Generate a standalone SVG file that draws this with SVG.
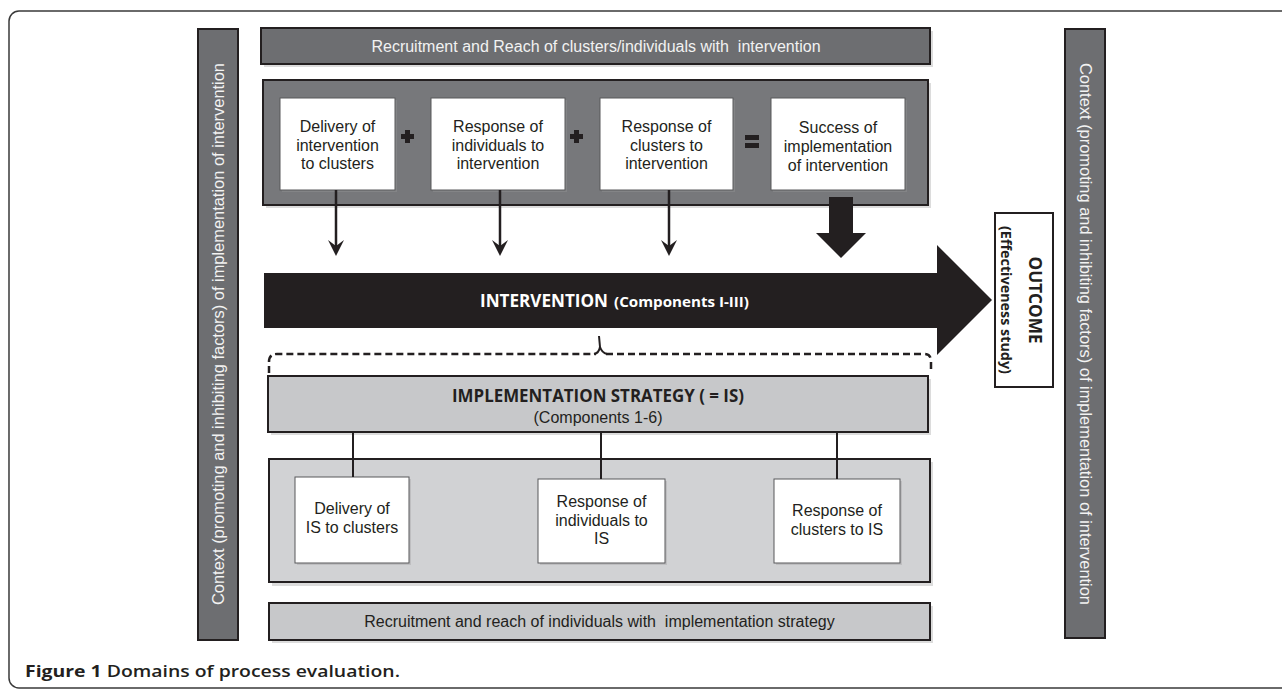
<svg xmlns="http://www.w3.org/2000/svg" width="1282" height="690" viewBox="0 0 1282 690">
<style>
.t{font-family:"Liberation Sans",Arial,sans-serif;font-size:16px;fill:#231f20;text-anchor:middle;white-space:pre}
.w{fill:#f2f2f2}
.b{font-family:"Open Sans","Liberation Sans",sans-serif;font-weight:700;text-anchor:middle}
.dark{fill:#6d6e71;stroke:#231f20;stroke-width:2}
.cont{fill:#77787b;stroke:#231f20;stroke-width:2}
.light{fill:#c7c8ca;stroke:#231f20;stroke-width:2}
.lighter{fill:#d1d2d4;stroke:#231f20;stroke-width:2}
.box{fill:#ffffff;stroke:#58595b;stroke-width:1}
.sh{fill:#9a9a9a;opacity:0.35}
.ln{stroke:#231f20;stroke-width:2;fill:none}
.ar{stroke:#231f20;stroke-width:2.5;fill:none}
.ah{fill:#231f20}
</style>
<rect x="0" y="0" width="1282" height="690" fill="#ffffff"/>
<rect x="9" y="11" width="1300" height="677" rx="10" ry="10" fill="none" stroke="#3a3a3a" stroke-width="1.5"/>

<g id="context-left">
<rect class="dark" x="198" y="29" width="40" height="611"/>
<text class="t w" transform="translate(218,334) rotate(-90)" dominant-baseline="central" textLength="542" lengthAdjust="spacingAndGlyphs">Context (promoting and inhibiting factors) of implementation of intervention</text>
</g>

<g id="context-right">
<rect class="dark" x="1065" y="29" width="40" height="609"/>
<text class="t w" transform="translate(1085,334) rotate(90)" dominant-baseline="central" textLength="542" lengthAdjust="spacingAndGlyphs">Context (promoting and inhibiting factors) of implementation of intervention</text>
</g>

<g id="recruit-top">
<rect class="sh" x="264" y="31" width="669" height="36"/>
<rect class="dark" x="261" y="28" width="669" height="36"/>
<text class="t w" x="596" y="52" xml:space="preserve">Recruitment and Reach of clusters/individuals with  intervention</text>
</g>

<g id="intervention-components">
<rect class="sh" x="266" y="83" width="665" height="125"/>
<rect class="cont" x="263" y="80" width="665" height="125"/>
<path d="M407,134h4v-4h5v4h4v5h-4v4h-5v-4h-4z" transform="translate(-6,0)" fill="#231f20"/>
<path d="M407,134h4v-4h5v4h4v5h-4v4h-5v-4h-4z" transform="translate(163,0)" fill="#231f20"/>
<rect x="745" y="135" width="14" height="5" fill="#231f20"/>
<rect x="745" y="143" width="14" height="5" fill="#231f20"/>
</g>

<g id="delivery-intervention">
<rect class="sh" x="282" y="100" width="115" height="92"/>
<rect class="box" x="280" y="98" width="115" height="92"/>
<text class="t" x="337.5" y="132">Delivery of</text>
<text class="t" x="337.5" y="151">intervention</text>
<text class="t" x="337.5" y="169">to clusters</text>
</g>

<g id="response-individuals-intervention">
<rect class="sh" x="433" y="100" width="134" height="92"/>
<rect class="box" x="431" y="98" width="134" height="92"/>
<text class="t" x="498" y="132">Response of</text>
<text class="t" x="498" y="151">individuals to</text>
<text class="t" x="498" y="169">intervention</text>
</g>

<g id="response-clusters-intervention">
<rect class="sh" x="602" y="100" width="133" height="92"/>
<rect class="box" x="600" y="98" width="133" height="92"/>
<text class="t" x="666.5" y="132">Response of</text>
<text class="t" x="666.5" y="151">clusters to</text>
<text class="t" x="666.5" y="169">intervention</text>
</g>

<g id="success-implementation">
<rect class="sh" x="773" y="100" width="134" height="92"/>
<rect class="box" x="771" y="98" width="134" height="92"/>
<text class="t" x="838" y="133">Success of</text>
<text class="t" x="838" y="152">implementation</text>
<text class="t" x="838" y="171">of intervention</text>
</g>

<g id="intervention-arrow">
<polygon points="264,273 937,273 937,245 992,300 937,355 937,328 264,328" fill="#231f20"/>
<text class="b" x="480" y="307" font-size="17" fill="#ffffff" textLength="128" lengthAdjust="spacingAndGlyphs" style="text-anchor:start">INTERVENTION</text>
<text class="b" x="614" y="307" font-size="14" fill="#ffffff" textLength="135" lengthAdjust="spacingAndGlyphs" style="text-anchor:start">(Components I-III)</text>
</g>

<g id="outcome">
<rect x="995" y="213" width="58" height="174" fill="#ffffff" stroke="#231f20" stroke-width="2"/>
<g transform="translate(1024,300) rotate(90)">
<text class="b" x="0" y="-11" font-size="17" fill="#231f20" dominant-baseline="central" textLength="87" lengthAdjust="spacingAndGlyphs">OUTCOME</text>
<text class="b" x="0" y="17" font-size="15" fill="#231f20" dominant-baseline="central" textLength="148" lengthAdjust="spacingAndGlyphs">(Effectiveness study)</text>
</g>
</g>

<g id="implementation-strategy">
<rect class="sh" x="271" y="379" width="660" height="56"/>
<rect class="light" x="268" y="376" width="660" height="56"/>
<text class="b" x="598" y="402" font-size="17" fill="#231f20" textLength="292" lengthAdjust="spacingAndGlyphs">IMPLEMENTATION STRATEGY ( = IS)</text>
<text class="t" x="598" y="423">(Components 1-6)</text>
</g>

<g id="is-components">
<rect class="sh" x="272" y="462" width="661" height="124"/>
<rect class="lighter" x="269" y="459" width="661" height="123"/>
</g>

<g id="delivery-is">
<rect class="sh" x="297" y="479" width="114" height="86"/>
<rect class="box" x="295" y="477" width="114" height="86"/>
<text class="t" x="352" y="514">Delivery of</text>
<text class="t" x="352" y="533">IS to clusters</text>
</g>

<g id="response-individuals-is">
<rect class="sh" x="540" y="481" width="127" height="84"/>
<rect class="box" x="538" y="479" width="127" height="84"/>
<text class="t" x="601.5" y="507">Response of</text>
<text class="t" x="601.5" y="526">individuals to</text>
<text class="t" x="601.5" y="544">IS</text>
</g>

<g id="response-clusters-is">
<rect class="sh" x="776" y="481" width="126" height="84"/>
<rect class="box" x="774" y="479" width="126" height="84"/>
<text class="t" x="837" y="516">Response of</text>
<text class="t" x="837" y="535">clusters to IS</text>
</g>

<g id="recruit-bottom">
<rect class="sh" x="272" y="606" width="661" height="37"/>
<rect class="light" x="269" y="603" width="661" height="37"/>
<text class="t" x="599.5" y="627" xml:space="preserve">Recruitment and reach of individuals with  implementation strategy</text>
</g>

<g id="connectors">
<line class="ar" x1="336" y1="190" x2="336" y2="248"/>
<polygon class="ah" points="336,256 328,240 336,246 344,240"/>
<line class="ar" x1="500" y1="190" x2="500" y2="248"/>
<polygon class="ah" points="500,256 492,240 500,246 508,240"/>
<line class="ar" x1="669" y1="190" x2="669" y2="248"/>
<polygon class="ah" points="669,256 661,240 669,246 677,240"/>
<polygon class="ah" points="829,197 853,197 853,233 866,233 841,258 816,233 829,233"/>
<path d="M269,373 L269,362 Q269,354 277,354 L596,354" fill="none" stroke="#231f20" stroke-width="2.5" stroke-dasharray="7,4"/>
<path d="M606,354 L924,354 Q931,354 931,361 L931,373" fill="none" stroke="#231f20" stroke-width="2.5" stroke-dasharray="7,4"/>
<path d="M594,354 Q599,353 600,347 L599,336" fill="none" stroke="#231f20" stroke-width="2"/>
<path d="M600,347 Q602,353 607,354" fill="none" stroke="#231f20" stroke-width="2"/>
<line class="ln" x1="353" y1="432" x2="353" y2="477"/>
<line class="ln" x1="601" y1="432" x2="601" y2="479"/>
<line class="ln" x1="837" y1="432" x2="837" y2="479"/>
</g>

<text x="25" y="677" font-family="'Open Sans','Liberation Sans',sans-serif" font-size="16" fill="#231f20" textLength="375" lengthAdjust="spacingAndGlyphs"><tspan font-weight="700">Figure 1</tspan><tspan font-weight="600"> Domains of process evaluation.</tspan></text>
</svg>
